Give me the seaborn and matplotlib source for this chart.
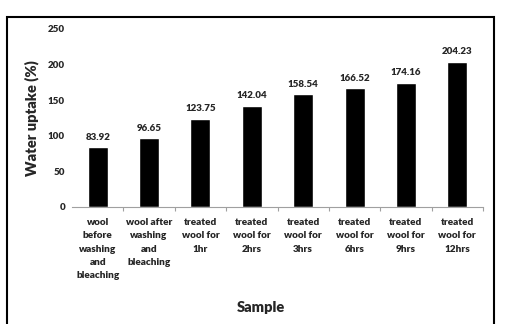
import matplotlib
matplotlib.use("Agg")
import matplotlib.pyplot as plt
import seaborn as sns
import pandas as pd
import numpy as np
from matplotlib.patches import Rectangle

# Data
samples = ["wool\nbefore\nwashing\nand\nbleaching",
           "wool after\nwashing\nand\nbleaching",
           "treated\nwool for\n1hr",
           "treated\nwool for\n2hrs",
           "treated\nwool for\n3hrs",
           "treated\nwool for\n6hrs",
           "treated\nwool for\n9hrs",
           "treated\nwool for\n12hrs"]
uptake = [83.92, 96.65, 123.75, 142.04, 158.54, 166.52, 174.16, 204.23]
y_ticks = [0, 50, 100, 150, 200, 250]

df = pd.DataFrame({"sample": samples, "uptake": uptake})

sns.set_theme(style="white")
plt.rcParams['font.family'] = ['Lato', 'DejaVu Sans']

W, H = 505, 324
fig = plt.figure(figsize=(W / 100, H / 100), dpi=100)
fig.patch.set_facecolor("white")
ax = fig.add_axes([72 / W, 1 - 207 / H, (483 - 72) / W, (207 - 29) / H])

sns.barplot(data=df, x="sample", y="uptake", color="black", width=0.39,
            saturation=1, ax=ax)

ax.set_ylim(0, 250)
ax.set_xlim(-0.5, len(samples) - 0.5)
ax.set_yticks(y_ticks)
ax.set_yticklabels([str(t) for t in y_ticks], fontsize=7, fontweight="heavy")
ax.tick_params(axis="y", length=0, pad=5)
ax.tick_params(axis="x", length=0, pad=8)
for lbl in ax.get_xticklabels():
    lbl.set_fontsize(7.2)
    lbl.set_fontweight("heavy")
    lbl.set_linespacing(1.62)
    lbl.set_verticalalignment("top")

# boundary ticks on the category axis
ax.set_xticks(np.arange(0.5, len(samples), 1.0), minor=True)
ax.tick_params(axis="x", which="minor", length=3, color="#a0a0a0", width=0.8,
               direction="out", bottom=True)

for side in ["top", "right", "left"]:
    ax.spines[side].set_visible(False)
ax.spines["bottom"].set_color("#a0a0a0")
ax.spines["bottom"].set_linewidth(0.8)
ax.set_xlabel("")
ax.set_ylabel("")

# value labels
for i, v in enumerate(uptake):
    ax.annotate(f"{v:.2f}", (i, v), xytext=(0, 4), textcoords="offset points",
                ha="center", va="bottom", fontsize=7, fontweight="heavy")

fig.text(261 / W, 1 - 307 / H, "Sample", ha="center", va="center",
         fontsize=10.5, fontweight="heavy")
fig.text(32 / W, 1 - 118 / H, "Water uptake (%)", ha="center", va="center",
         rotation=90, fontsize=10.5, fontweight="heavy")

# outer frame
fig.patches.append(Rectangle((7 / W, -0.01), (494 - 7) / W, (324 - 17) / H + 0.01,
                             transform=fig.transFigure, fill=False,
                             edgecolor="black", linewidth=1.5))

fig.savefig("out.png", dpi=100, facecolor="white")
